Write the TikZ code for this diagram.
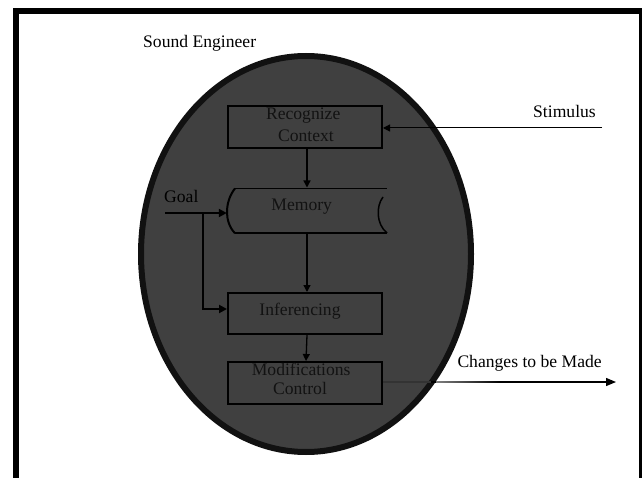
\documentclass[tikz,border=0pt]{standalone}
\usepackage{fontspec}
\setmainfont{Liberation Serif}
\usetikzlibrary{arrows.meta}
\definecolor{shell}{HTML}{404040}
\definecolor{rim}{HTML}{111111}
\definecolor{ink}{HTML}{121212}
\begin{document}
\begin{tikzpicture}[x=1pt,y=-1pt,
  lbl/.style={font=\fontsize{17.6}{21}\selectfont, inner sep=0pt, anchor=base},
  lblw/.style={lbl, anchor=base west},
  stepbox/.style={draw=black, line width=2.2pt, minimum width=153.8pt, minimum height=41.8pt, inner sep=0pt},
  flow/.style={line width=1.3pt, -{Triangle[length=7pt,width=7pt]}},
  goalline/.style={line width=2.2pt, line join=miter, -{Triangle[length=8pt,width=8pt]}},
  memline/.style={line width=2pt}
]
\useasboundingbox (0,0) rectangle (642,478);
\fill[white] (0,0) rectangle (642,478);
% frame
\draw[line width=6pt, line join=miter] (16,478) -- (16,11) -- (641.5,11) -- (641.5,478);
% sound engineer body
\draw[fill=shell, draw=rim, line width=6pt] (306,254) ellipse [x radius=165pt, y radius=198pt];
\node[lblw] (eng) at (143,48) {Sound Engineer};

% boxes
\node[stepbox] (recog) at (305,127) {};
\node[stepbox, minimum height=40.8pt] (infer) at (305,313.5) {};
\node[stepbox] (modc) at (305,383) {};
\node[minimum width=160pt, minimum height=45.6pt, inner sep=0pt] (mem) at (307,210.5) {};
% memory (stored data) outline
\draw[line width=1.6pt] (235,188.4) -- (387,188.4);
\draw[memline] (235,233.3) -- (387,233.3);
\draw[memline] (235,188.4) .. controls (229,196) and (227,205) .. (227,212)
                .. controls (227,219) and (229,227) .. (235,233.3);
\draw[line width=1.5pt] (383,197) .. controls (376,206) and (376,224) .. (387,233);

% labels in boxes
\node[lbl, text=ink] (t1) at (303.2,120) {Recognize};
\node[lbl, text=ink] (t2) at (306,141.7) {Context};
\node[lbl, text=ink] (t3) at (301.7,211) {Memory};
\node[lbl, text=ink] (t4) at (300,315.3) {Inferencing};
\node[lbl, text=ink] (t5) at (301.2,375.7) {Modifications};
\node[lbl, text=ink] (t6) at (300,394.3) {Control};

% flow arrows
\draw[flow] ([xshift=2pt]recog.south) -- (mem.north);
\draw[flow] (mem.south) -- (mem.south |- infer.north);
\draw[flow] ([xshift=2pt]infer.south) -- ([xshift=1pt]modc.north);

% goal
\node[lblw] (goal) at (164,202.7) {Goal};
\coordinate (g0) at (165,213);
\coordinate (gb) at (203,213);
\draw[goalline] (g0) -- (mem.west |- g0);
\draw[goalline] (gb) |- ([yshift=4.5pt]infer.west);

% stimulus
\node[lblw] (stimtxt) at (533,117.3) {Stimulus};
\coordinate (s0) at (602,128);
\draw[line width=1pt, -{Triangle[length=7pt,width=7pt]}] (s0) -- (recog.east |- s0);

% changes
\node[lblw] (chgtxt) at (457.3,367.3) {Changes to be Made};
\coordinate (c0) at (616,382);
\draw[line width=1.3pt, -{Triangle[length=10pt,width=8pt]}] (modc.east |- c0) -- (c0);
\draw[line width=1.3pt, draw=black!80] (modc.east |- c0) -- (431,382);
\shade[left color=black!50, right color=black] (436,381.35) rectangle (500,382.65);
\end{tikzpicture}
\end{document}
